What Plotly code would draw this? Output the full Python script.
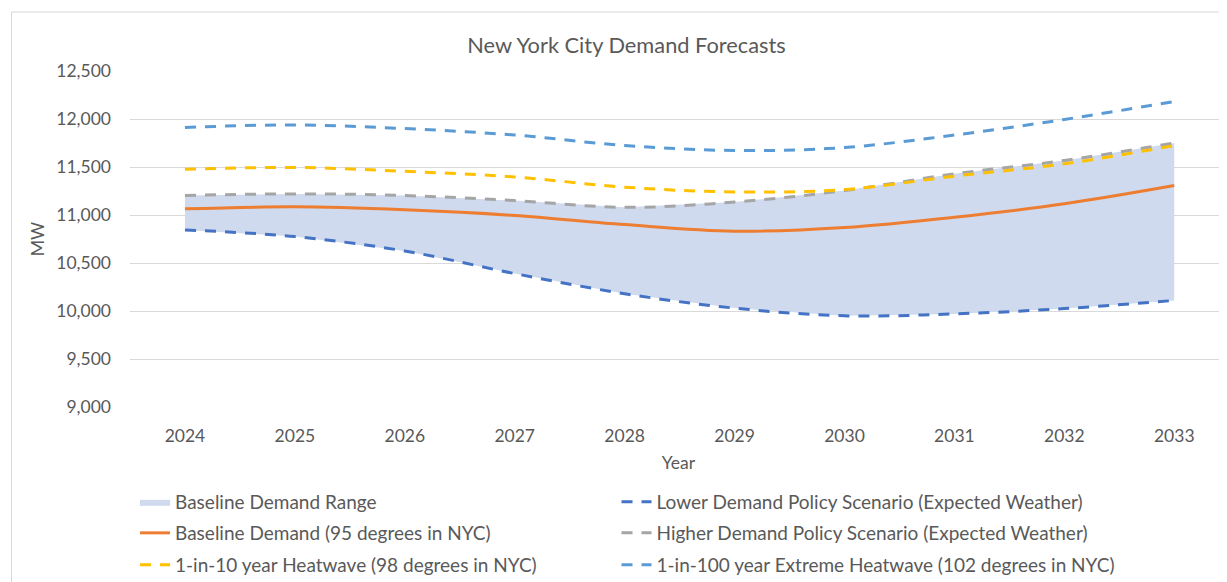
import plotly.graph_objects as go

years = [2024, 2025, 2026, 2027, 2028, 2029, 2030, 2031, 2032, 2033]
lower = [10845, 10775, 10625, 10390, 10180, 10030, 9950, 9970, 10025, 10110]
baseline = [11064, 11085, 11054, 10995, 10900, 10831, 10870, 10977, 11117, 11307]
higher = [11203, 11220, 11203, 11150, 11080, 11135, 11255, 11429, 11568, 11750]
heat10 = [11476, 11495, 11455, 11396, 11290, 11240, 11265, 11405, 11533, 11724]
heat100 = [11912, 11938, 11900, 11833, 11724, 11672, 11703, 11833, 11995, 12182]

names = {
    "range": "Baseline Demand Range",
    "lower": "Lower Demand Policy Scenario (Expected Weather)",
    "base": "Baseline Demand (95 degrees in NYC)",
    "higher": "Higher Demand Policy Scenario (Expected Weather)",
    "h10": "1-in-10 year Heatwave (98 degrees in NYC)",
    "h100": "1-in-100 year Extreme Heatwave (102 degrees in NYC)",
}

FONT = "Lato"
TXT = "#595959"
DASH = "11px,9px"

fig = go.Figure()
fig.add_trace(go.Scatter(x=years, y=lower, mode="lines", line=dict(width=0),
                         showlegend=False, hoverinfo="skip"))
fig.add_trace(go.Scatter(x=years, y=higher, mode="lines", line=dict(width=0),
                         fill="tonexty", fillcolor="#CFDAEE",
                         name=names["range"], legend="legend"))
fig.add_trace(go.Scatter(x=years, y=lower, mode="lines", name=names["lower"],
                         line=dict(color="#4472C4", width=3, dash=DASH, shape="spline"),
                         legend="legend2"))
fig.add_trace(go.Scatter(x=years, y=baseline, mode="lines", name=names["base"],
                         line=dict(color="#ED7D31", width=3, shape="spline"),
                         legend="legend3"))
fig.add_trace(go.Scatter(x=years, y=higher, mode="lines", name=names["higher"],
                         line=dict(color="#A5A5A5", width=3, dash=DASH, shape="spline"),
                         legend="legend4"))
fig.add_trace(go.Scatter(x=years, y=heat10, mode="lines", name=names["h10"],
                         line=dict(color="#FFC000", width=3, dash=DASH, shape="spline"),
                         legend="legend5"))
fig.add_trace(go.Scatter(x=years, y=heat100, mode="lines", name=names["h100"],
                         line=dict(color="#5B9BD5", width=3, dash=DASH, shape="spline"),
                         legend="legend6"))

COL1 = 0.0046
COL2 = 0.4435
ROWS = [-0.2827, -0.375, -0.4702]

def leg(xpos, ypos):
    return dict(orientation="h", x=xpos, xanchor="left", y=ypos, yanchor="middle",
                font=dict(size=19, color=TXT), bgcolor="rgba(0,0,0,0)")

fig.update_layout(
    width=1219, height=574,
    margin=dict(l=122, r=0, t=63, b=175, autoexpand=False),
    paper_bgcolor="white", plot_bgcolor="white",
    font=dict(family=FONT, color=TXT, size=17),
    title=dict(text="New York City Demand Forecasts", x=0.5074, xanchor="center",
               y=0.935, yanchor="middle", font=dict(family=FONT, size=21.8, color=TXT)),
    xaxis=dict(range=[2023.5, 2033.48], tickmode="array", tickvals=years,
               ticktext=[str(y) for y in years], showgrid=False, zeroline=False,
               showline=False, ticks="", ticklabelstandoff=16,
               tickfont=dict(size=17.5, color=TXT),
               title=dict(text="Year", standoff=12, font=dict(size=17.5, color=TXT))),
    yaxis=dict(range=[9000, 12500], dtick=500, tickformat=",", showgrid=True,
               gridcolor="#D9D9D9", gridwidth=1, zeroline=False, showline=False,
               ticks="", ticklabelstandoff=18, tickfont=dict(size=17.5, color=TXT),
               title=dict(text="MW", standoff=7, font=dict(size=17.5, color=TXT))),
    legend=leg(COL1, ROWS[0]),
    legend2=leg(COL2, ROWS[0]),
    legend3=leg(COL1, ROWS[1]),
    legend4=leg(COL2, ROWS[1]),
    legend5=leg(COL1, ROWS[2]),
    legend6=leg(COL2, ROWS[2]),
    shapes=[dict(type="rect", xref="paper", yref="paper", x0=-0.108, x1=1.2,
                 y0=-0.7, y1=1.1756, line=dict(color="#D9D9D9", width=1),
                 fillcolor="rgba(0,0,0,0)", layer="below")],
    showlegend=True,
)

fig.write_html("out.html")
